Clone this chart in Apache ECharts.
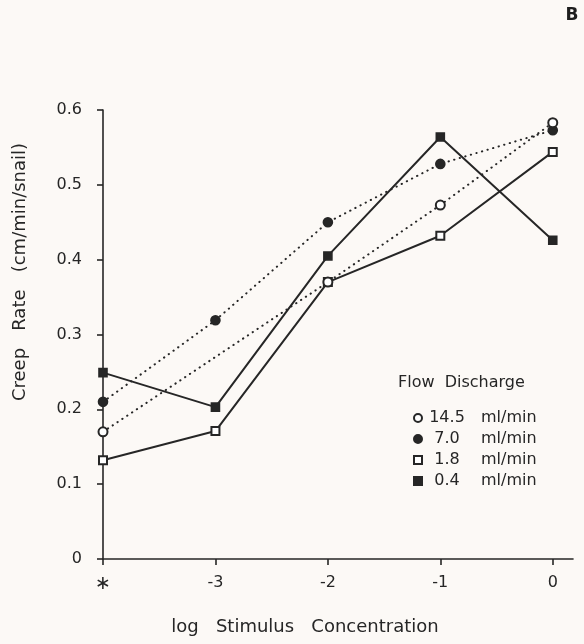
<!DOCTYPE html>
<html>
<head>
<meta charset="utf-8">
<script src="https://cdn.jsdelivr.net/npm/echarts@6/dist/echarts.min.js"></script>
<style>
  html, body { margin: 0; padding: 0; background: #fcf9f6; }
  #chart { width: 584px; height: 644px; }
</style>
</head>
<body>
<div id="chart"></div>
<script>
// x categories (log stimulus concentration, * = control)
const categories = ['*', '-3', '-2', '-1', '0'];
// creep rate (cm/min/snail) per flow discharge
const flow145 = [0.170, null, 0.370, 0.473, 0.583];
const flow70 = [0.210, 0.319, 0.450, 0.528, 0.573];
const flow18 = [0.132, 0.171, 0.370, 0.432, 0.544];
const flow04 = [0.249, 0.203, 0.405, 0.564, 0.426];
const seriesNames = ['14.5 ml/min', '7.0 ml/min', '1.8 ml/min', '0.4 ml/min'];
const yTicks = [0, 0.1, 0.2, 0.3, 0.4, 0.5, 0.6];

const ink = '#262626';
const txt = '#262626';
const font = 'DejaVu Sans';

function pts(arr) {
  return arr.map((v, i) => [i, v]);
}

const chart = echarts.init(document.getElementById('chart'));

// ——— series 配置 ———
function mkSeries(name, data, symbol, dotted) {
  return {
    name: name,
    type: 'line',
    data: pts(data),
    connectNulls: true,
    symbol: symbol,
    symbolSize: symbol.indexOf('ircle') >= 0 ? 9 : 8,
    showAllSymbol: true,
    itemStyle: { color: ink, borderColor: ink, borderWidth: 1.6 },
    lineStyle: dotted
      ? { color: ink, width: 2, type: [0.3, 5.5], cap: 'round' }
      : { color: ink, width: 2 },
    emphasis: { disabled: true },
    animation: false
  };
}

const option = {
  backgroundColor: '#fcf9f6',
  animation: false,
  grid: { left: 103, right: 11, top: 110, bottom: 85 },
  xAxis: {
    type: 'value',
    min: 0,
    max: 4.18,
    interval: 1,
    splitLine: { show: false },
    axisLine: { lineStyle: { color: ink, width: 1.6 } },
    axisTick: { length: 6, lineStyle: { color: ink, width: 1.6 }, customValues: [0, 1, 2, 3, 4] },
    axisLabel: {
      customValues: [0, 1, 2, 3, 4],
      formatter: v => v === 0 ? '{a|\u2217}' : categories[v],
      color: txt, fontFamily: font, fontSize: 16, margin: 16,
      rich: { a: { fontFamily: font, fontSize: 19, color: txt } }
    }
  },
  yAxis: {
    type: 'value',
    min: 0,
    max: 0.6,
    interval: 0.1,
    splitLine: { show: false },
    axisLine: { show: true, lineStyle: { color: ink, width: 1.6 } },
    axisTick: { show: true, length: 6, lineStyle: { color: ink, width: 1.6 } },
    axisLabel: {
      formatter: v => {
        const t = yTicks.find(y => Math.abs(y - v) < 1e-6);
        return t === 0 ? '0' : t.toFixed(1);
      },
      color: txt, fontFamily: font, fontSize: 16, margin: 21
    }
  },
  legend: {
    orient: 'vertical',
    left: 408,
    top: 405,
    itemWidth: 8,
    itemHeight: 8,
    itemGap: 5,
    data: [
      { name: seriesNames[0], icon: 'emptyCircle' },
      { name: seriesNames[1], icon: 'circle' },
      { name: seriesNames[2], icon: 'emptyRect' },
      { name: seriesNames[3], icon: 'rect' }
    ],
    formatter: name => {
      const parts = name.split(' ');
      return '{n|' + parts[0] + '}{u|' + parts[1] + '}';
    },
    textStyle: {
      color: txt, fontFamily: font, fontSize: 16,
      rich: {
        n: { width: 40, align: 'right', fontFamily: font, fontSize: 16, lineHeight: 16, color: txt },
        u: { padding: [0, 0, 0, 14], fontFamily: font, fontSize: 16, lineHeight: 16, color: txt }
      }
    }
  },
  graphic: [
    {
      type: 'text', x: 398, y: 383,
      style: { text: 'Flow  Discharge', fill: txt, font: '16px ' + font, verticalAlign: 'middle' }
    },
    {
      type: 'text', x: 20, y: 272, rotation: Math.PI / 2,
      style: {
        text: 'Creep   Rate   (cm/min/snail)', fill: txt, font: '18px ' + font,
        align: 'center', verticalAlign: 'middle'
      }
    },
    {
      type: 'text', x: 305, y: 627,
      style: {
        text: 'log   Stimulus   Concentration', fill: txt, font: '18px ' + font,
        align: 'center', verticalAlign: 'middle'
      }
    },
    {
      type: 'text', x: 572, y: 16,
      style: {
        text: 'B', fill: '#1e1e1e', font: 'bold 17px ' + font,
        align: 'center', verticalAlign: 'middle'
      }
    }
  ],
  // squares drawn first so the open circle at -2 sits on top
  series: [
    mkSeries(seriesNames[3], flow04, 'rect', false),
    mkSeries(seriesNames[2], flow18, 'emptyRect', false),
    mkSeries(seriesNames[1], flow70, 'circle', true),
    mkSeries(seriesNames[0], flow145, 'emptyCircle', true)
  ]
};

chart.setOption(option);
</script>
</body>
</html>
